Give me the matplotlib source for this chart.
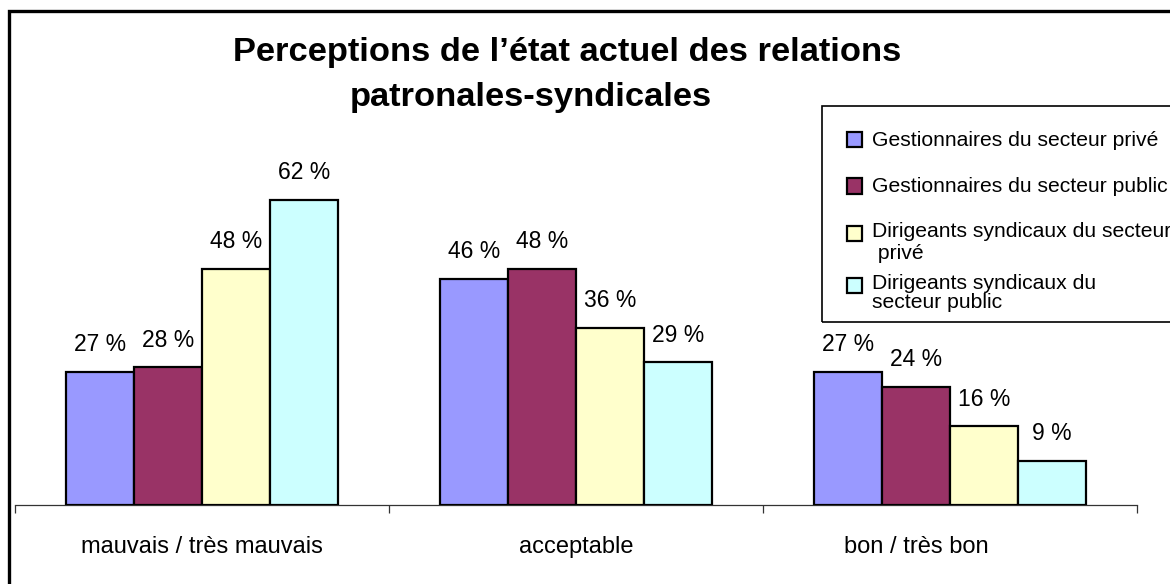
import matplotlib.pyplot as plt
import matplotlib.patches as patches
from matplotlib.transforms import ScaledTranslation
import numpy as np

plt.rcParams['font.family'] = ['Liberation Sans', 'DejaVu Sans']

# ---------------------------------
# Data
# ---------------------------------
categories = ['mauvais / très mauvais', 'acceptable', 'bon / très bon']
series_names = ['Gestionnaires du secteur privé',
                'Gestionnaires du secteur public',
                'Dirigeants syndicaux du secteur\n privé',
                'Dirigeants syndicaux du\nsecteur public']
values = [
    [27, 46, 27],   # gestionnaires privé
    [28, 48, 24],   # gestionnaires public
    [48, 36, 16],   # syndicaux privé
    [62, 29, 9],    # syndicaux public
]
colors = ['#9999FF', '#993366', '#FFFFCC', '#CCFFFF']
title_lines = ['Perceptions de l’état actuel des relations', 'patronales-syndicales']

W, H = 1170, 584

def fx(x):
    return x / W

def fy(y):
    return 1 - y / H

fig = plt.figure(figsize=(W / 100, H / 100), dpi=100)
ax = fig.add_axes([fx(15), fy(505), 1122 / W, 344 / H])

# ---------------------------------
# Bars
# ---------------------------------
x = np.arange(len(categories))
bw = 0.182
for i, (vals, col) in enumerate(zip(values, colors)):
    pos = x + (i - 1.5) * bw
    bars = ax.bar(pos, vals, width=bw, color=col, edgecolor='black',
                  linewidth=1.6, zorder=3)
    for b, v in zip(bars, vals):
        ax.annotate(f'{v} %', (b.get_x() + b.get_width() / 2, v),
                    xytext=(0, 15), textcoords='offset points',
                    ha='center', va='baseline', fontsize=16.5)

ax.set_xlim(-0.5, 2.5)
ax.set_ylim(0, 70)
for s in ['left', 'right', 'top']:
    ax.spines[s].set_visible(False)
ax.spines['bottom'].set_color('#333333')
ax.spines['bottom'].set_linewidth(0.9)
ax.set_yticks([])

ax.set_xticks([-0.5, 0.5, 1.5, 2.5])
ax.set_xticklabels([])
ax.tick_params(axis='x', which='major', length=6, width=0.9, color='#333333')
ax.set_xticks(x, minor=True)
ax.set_xticklabels(categories, minor=True, fontsize=17)
ax.tick_params(axis='x', which='minor', length=0, pad=22)
# Excel shifted the last category label to the left
lbl = ax.get_xticklabels(minor=True)[2]
lbl.set_transform(lbl.get_transform() + ScaledTranslation(-0.34, 0, fig.dpi_scale_trans))

# ---------------------------------
# Title
# ---------------------------------
fig.text(fx(567), fy(61), title_lines[0], ha='center', va='baseline',
         fontsize=24.8, fontweight='bold')
fig.text(fx(531), fy(106), title_lines[1], ha='center', va='baseline',
         fontsize=24.8, fontweight='bold')

# ---------------------------------
# Outer frame and legend
# ---------------------------------
fig.add_artist(patches.Rectangle((fx(9), fy(700)), fx(1300), fy(11) - fy(700),
                                 transform=fig.transFigure, fill=False,
                                 edgecolor='black', linewidth=2.4))
fig.add_artist(patches.Rectangle((fx(822), fy(322)), fx(500), fy(106) - fy(322),
                                 transform=fig.transFigure, fill=False,
                                 edgecolor='black', linewidth=1.2))

leg_y = [140, 186, 233, 285]
for name, col, yc in zip(series_names, colors, leg_y):
    fig.add_artist(patches.Rectangle((fx(847), fy(yc + 7.5)), 15 / W, 15 / H,
                                     transform=fig.transFigure, facecolor=col,
                                     edgecolor='black', linewidth=1.6))
    if '\n' in name:
        fig.text(fx(872), fy(yc - 11), name, ha='left', va='top', fontsize=15.2,
                 linespacing=1.0 if yc > 260 else 1.2)
    else:
        fig.text(fx(872), fy(yc), name, ha='left', va='center', fontsize=15.2)

fig.savefig('out.png', dpi=100)
